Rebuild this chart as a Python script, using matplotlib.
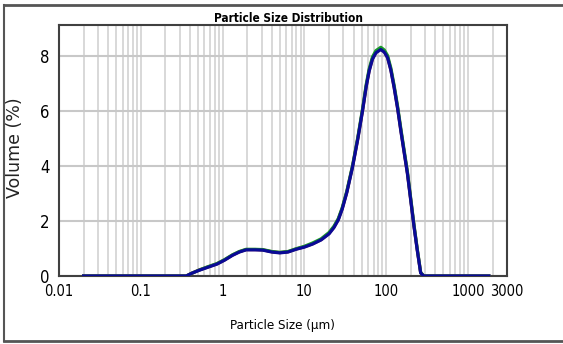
import matplotlib
matplotlib.use("Agg")
import matplotlib.pyplot as plt
from matplotlib.ticker import LogLocator, FixedLocator, NullFormatter
from matplotlib.lines import Line2D

# particle size (um) and volume (%), three overlaid runs
size_um = [0.02, 0.36, 0.42, 0.52, 0.65, 0.85, 1.05, 1.32, 1.6, 1.94,
           2.5, 3.1, 4.0, 5.0, 6.3, 7.9, 10, 12.6, 16, 20,
           23, 26, 29, 33, 38.8, 45, 51.4, 57, 62, 68, 75,
           86, 95, 104, 114, 125, 138, 151, 166, 182, 200,
           219, 240, 264, 288, 1800]
vol_run1 = [0, 0, 0.10, 0.22, 0.32, 0.44, 0.58, 0.76, 0.88, 0.96,
            0.96, 0.95, 0.88, 0.85, 0.88, 0.98, 1.06, 1.17, 1.32, 1.55,
            1.78, 2.06, 2.45, 3.05, 3.98, 5.00, 6.02, 6.90, 7.47, 7.90, 8.13,
            8.25, 8.15, 7.95, 7.50, 6.87, 6.10, 5.30, 4.50, 3.73, 2.75,
            1.81, 0.95, 0.12, 0, 0]
vol_run2 = [0, 0, 0.10, 0.22, 0.33, 0.45, 0.59, 0.77, 0.89, 0.97,
            0.97, 0.96, 0.89, 0.86, 0.89, 0.99, 1.08, 1.20, 1.35, 1.58,
            1.81, 2.09, 2.48, 3.08, 4.01, 5.04, 6.07, 6.96, 7.53, 7.96, 8.19,
            8.31, 8.21, 8.01, 7.56, 6.93, 6.16, 5.36, 4.56, 3.78, 2.80,
            1.85, 0.98, 0.13, 0, 0]
vol_run3 = [0, 0, 0.10, 0.21, 0.31, 0.43, 0.57, 0.75, 0.87, 0.95,
            0.95, 0.94, 0.87, 0.84, 0.87, 0.97, 1.05, 1.16, 1.31, 1.53,
            1.76, 2.04, 2.43, 3.03, 3.96, 4.98, 6.00, 6.88, 7.45, 7.88, 8.11,
            8.23, 8.13, 7.93, 7.48, 6.85, 6.08, 5.28, 4.48, 3.71, 2.73,
            1.79, 0.93, 0.11, 0, 0]

x_ticks = [0.01, 0.1, 1, 10, 100, 1000, 3000]
x_labels = ["0.01", "0.1", "1", "10", "100", "1000", "3000"]
y_ticks = [0, 2, 4, 6, 8]

cond = dict(family="DejaVu Sans", fontstretch="condensed")

fig = plt.figure(figsize=(5.63, 3.44), dpi=100)
ax = fig.add_axes([59 / 563, 1 - 276 / 344, 448 / 563, 251 / 344])

ax.plot(size_um, vol_run1, color="#d0202a", lw=2.3, zorder=3)
ax.plot(size_um, vol_run2, color="#1a9a2a", lw=2.3, zorder=4)
ax.plot(size_um, vol_run3, color="#0a0a96", lw=2.3, zorder=5)

ax.set_xscale("log")
ax.set_xlim(0.01, 3000)
ax.set_ylim(0, 9.12)

ax.xaxis.set_major_locator(FixedLocator(x_ticks))
ax.set_xticklabels(x_labels, fontsize=10.5, **cond)
ax.xaxis.set_minor_locator(LogLocator(base=10, subs=range(2, 10), numticks=20))
ax.xaxis.set_minor_formatter(NullFormatter())
ax.set_yticks(y_ticks)
ax.set_yticklabels([str(v) for v in y_ticks], fontsize=12, **cond)

ax.grid(True, which="both", axis="x", color="#d2d2d2", lw=1.2, zorder=0)
ax.grid(True, which="major", axis="y", color="#c8c8c8", lw=1.5, zorder=0)
ax.tick_params(which="both", length=0)
ax.tick_params(axis="x", pad=6)
ax.tick_params(axis="y", pad=7)

for s in ax.spines.values():
    s.set_color("#404040")
    s.set_linewidth(1.5)

fig.text(282 / 563, 1 - 325 / 344, "Particle Size (\u00b5m)", ha="center",
         va="center", fontsize=9.5, **cond)
fig.text(15 / 563, 1 - 148 / 344, "Volume (%)", rotation=90, ha="center",
         va="center", fontsize=12.5, family="DejaVu Sans", color="#222222")
fig.text(289 / 563, 1 - 25 / 344, "Particle Size Distribution", ha="center",
         va="bottom", fontsize=8.5, fontweight="bold", **cond)

# outer frame of the report panel
fig.add_artist(Line2D([4 / 563, 1], [1 - 5 / 344] * 2, color="#555555", lw=2))
fig.add_artist(Line2D([4 / 563, 1], [1 - 341 / 344] * 2, color="#555555", lw=2))
fig.add_artist(Line2D([4 / 563] * 2, [1 - 5 / 344, 1 - 341 / 344], color="#555555", lw=1.5))

fig.savefig("out.png", dpi=100)
